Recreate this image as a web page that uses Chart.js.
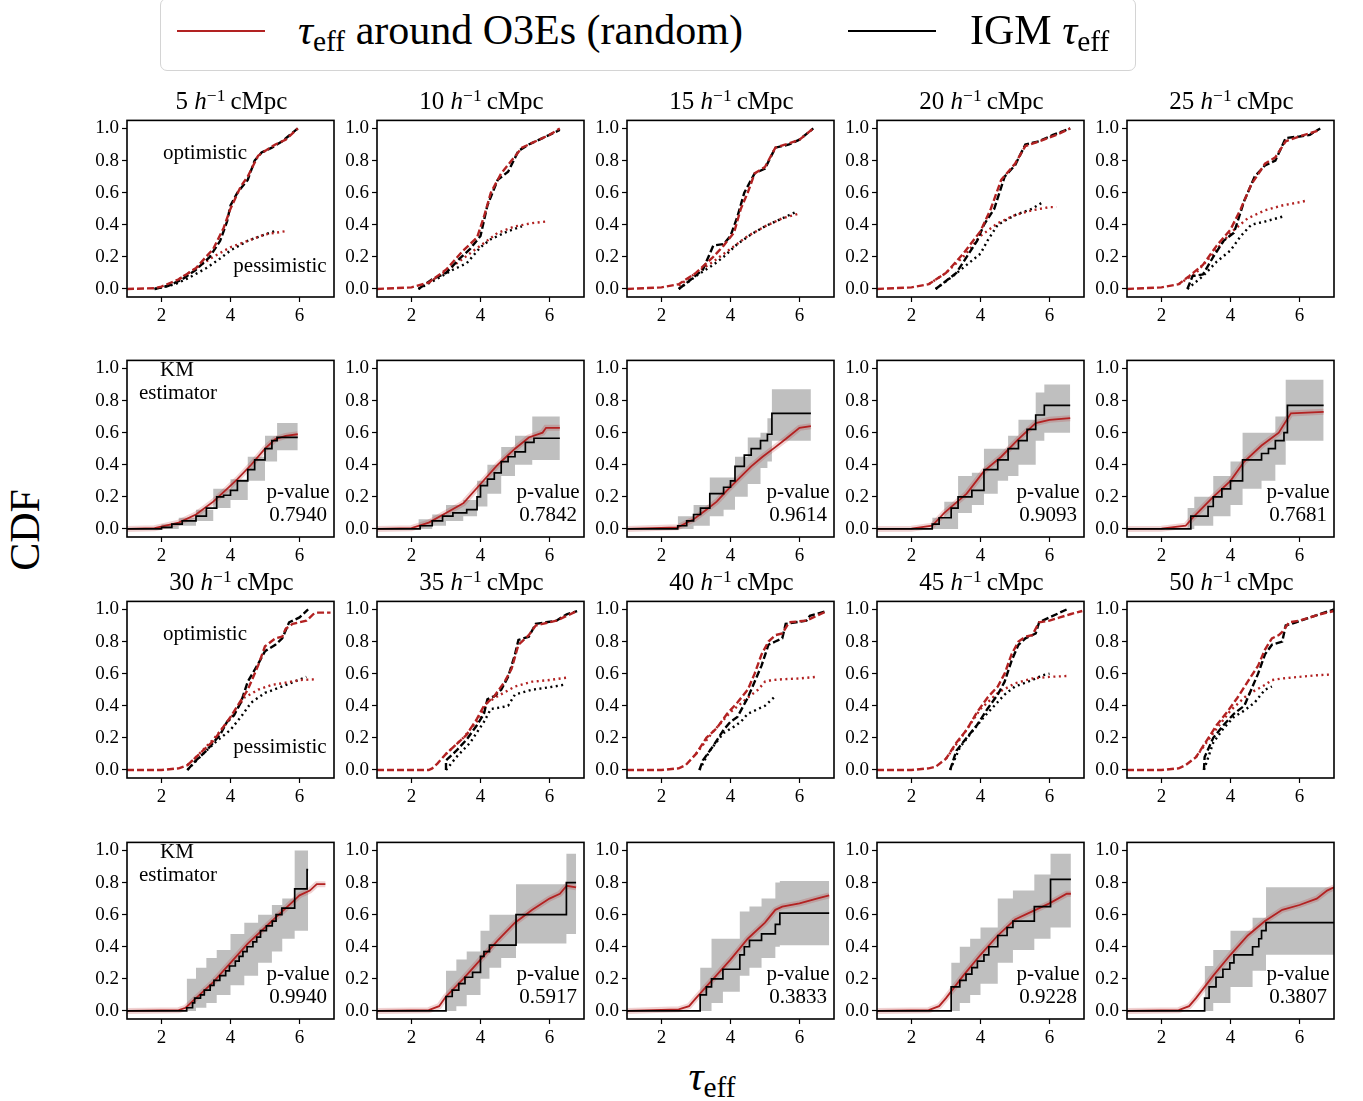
<!DOCTYPE html>
<html><head><meta charset="utf-8">
<script src="https://cdn.jsdelivr.net/npm/chart.js@4.4.1/dist/chart.umd.min.js"></script>
<style>
body{margin:0;background:#fff;}
#fig{position:relative;width:1363px;height:1101px;overflow:hidden;font-family:"Liberation Serif","DejaVu Serif",serif;color:#000;background:#fff;}
#fig canvas{position:absolute;}
.t{position:absolute;white-space:nowrap;transform:translate(-50%,-50%);line-height:1;}
.l{position:absolute;white-space:nowrap;transform:translate(0,-50%);line-height:1;}
.sb{font-size:70%;position:relative;top:0.25em;}
.sp{font-size:70%;position:relative;top:-0.45em;}
</style></head>
<body><div id="fig"></div>
<script>
// ---------------- DATA ----------------
const scaleLabels = [5,10,15,20,25,30,35,40,45,50];
const pValues = ['0.7940','0.7842','0.9614','0.9093','0.7681','0.9940','0.5917','0.3833','0.9228','0.3807'];
const xTicks = [2,4,6];
const yTicks = [0,0.2,0.4,0.6,0.8,1.0];

// optimistic CDF, random sightlines around O3Es (red dashed)
const optRandom = [
 [[1,0],[1.8,0.005],[2.0,0.015],[2.5,0.06],[3.0,0.13],[3.5,0.25],[3.8,0.38],[4.0,0.5],[4.3,0.64],[4.5,0.7],[4.8,0.83],[5.0,0.86],[5.3,0.9],[5.6,0.93],[5.95,1.0]],
 [[1,0],[2,0.01],[2.5,0.04],[3.0,0.12],[3.5,0.24],[3.9,0.32],[4.1,0.45],[4.3,0.6],[4.6,0.72],[4.9,0.8],[5.2,0.88],[5.6,0.92],[6.0,0.96],[6.3,1.0]],
 [[1,0],[2,0.01],[2.5,0.03],[3.0,0.1],[3.5,0.2],[3.8,0.27],[4.1,0.35],[4.3,0.5],[4.5,0.6],[4.7,0.72],[5.0,0.76],[5.3,0.88],[5.6,0.9],[6.0,0.93],[6.4,1.0]],
 [[1,0],[2,0.01],[2.5,0.03],[3.0,0.1],[3.5,0.22],[4.0,0.36],[4.3,0.5],[4.6,0.68],[5.0,0.78],[5.3,0.89],[5.7,0.92],[6.2,0.96],[6.6,1.0]],
 [[1,0],[2,0.01],[2.5,0.03],[2.8,0.08],[3.2,0.15],[3.6,0.27],[4.0,0.37],[4.3,0.5],[4.6,0.65],[5.0,0.78],[5.3,0.82],[5.6,0.92],[6.0,0.95],[6.6,0.99]],
 [[1,0],[2,0],[2.5,0.01],[2.75,0.03],[3.0,0.08],[3.5,0.18],[4.0,0.33],[4.5,0.5],[4.8,0.65],[5.0,0.77],[5.3,0.82],[5.5,0.83],[5.6,0.88],[5.8,0.91],[6.2,0.93],[6.4,0.97],[6.5,0.98],[6.9,0.98]],
 [[1,0],[2.5,0],[2.6,0.01],[2.75,0.04],[3.0,0.1],[3.3,0.16],[3.6,0.22],[3.9,0.32],[4.1,0.4],[4.4,0.46],[4.7,0.55],[4.9,0.63],[5.1,0.78],[5.4,0.84],[5.6,0.9],[5.8,0.91],[6.2,0.93],[6.5,0.96],[6.8,0.99]],
 [[1,0],[2,0],[2.5,0.01],[2.7,0.03],[3.0,0.1],[3.3,0.2],[3.6,0.26],[3.9,0.35],[4.2,0.42],[4.5,0.5],[4.7,0.6],[4.9,0.72],[5.1,0.8],[5.3,0.84],[5.5,0.85],[5.7,0.92],[6.2,0.93],[6.4,0.95],[6.8,0.99]],
 [[1,0],[2,0],[2.5,0.01],[2.7,0.02],[3.0,0.07],[3.3,0.17],[3.6,0.25],[3.9,0.36],[4.2,0.45],[4.5,0.52],[4.7,0.6],[4.9,0.72],[5.1,0.8],[5.3,0.83],[5.5,0.84],[5.7,0.92],[6.0,0.93],[6.3,0.95],[6.6,0.97],[6.95,0.99]],
 [[1,0],[2,0],[2.5,0.01],[2.7,0.03],[3.0,0.08],[3.3,0.18],[3.6,0.28],[3.9,0.36],[4.2,0.45],[4.5,0.55],[4.8,0.65],[5.0,0.75],[5.2,0.82],[5.4,0.84],[5.5,0.86],[5.7,0.92],[6.0,0.93],[6.3,0.95],[6.6,0.97],[7.0,0.99]]
];
// optimistic CDF, IGM (black dashed)
const optIGM = [
 [[1.8,0],[2.2,0.02],[2.6,0.06],[3.0,0.12],[3.4,0.2],[3.7,0.3],[3.9,0.42],[4.0,0.52],[4.2,0.6],[4.5,0.68],[4.7,0.8],[4.9,0.85],[5.2,0.88],[5.5,0.92],[5.95,1.0]],
 [[2.2,0],[2.6,0.06],[3.0,0.1],[3.4,0.19],[3.7,0.25],[4.0,0.33],[4.2,0.52],[4.5,0.68],[4.8,0.73],[5.1,0.86],[5.4,0.9],[5.8,0.94],[6.3,0.99]],
 [[2.5,0],[2.8,0.05],[3.2,0.12],[3.5,0.27],[3.8,0.28],[4.0,0.33],[4.2,0.45],[4.4,0.6],[4.7,0.72],[5.0,0.75],[5.3,0.88],[5.7,0.9],[6.0,0.93],[6.4,1.0]],
 [[2.7,0],[3.0,0.05],[3.3,0.1],[3.6,0.2],[3.9,0.3],[4.1,0.4],[4.4,0.5],[4.7,0.7],[5.0,0.77],[5.3,0.9],[5.7,0.92],[6.1,0.96],[6.6,1.0]],
 [[2.75,0],[2.9,0.08],[3.2,0.09],[3.5,0.2],[3.8,0.3],[4.1,0.35],[4.4,0.55],[4.7,0.7],[5.0,0.77],[5.3,0.8],[5.6,0.94],[6.0,0.95],[6.3,0.96],[6.6,1.0]],
 [[2.75,0],[3.0,0.06],[3.3,0.12],[3.7,0.22],[3.9,0.3],[4.1,0.34],[4.3,0.42],[4.5,0.55],[4.8,0.66],[5.0,0.74],[5.3,0.78],[5.5,0.82],[5.7,0.92],[6.0,0.95],[6.25,1.0]],
 [[3.0,0],[3.0,0.06],[3.3,0.12],[3.6,0.19],[3.9,0.28],[4.1,0.35],[4.2,0.44],[4.4,0.46],[4.6,0.5],[4.8,0.58],[5.0,0.72],[5.1,0.81],[5.4,0.83],[5.6,0.91],[5.9,0.92],[6.2,0.93],[6.5,0.97],[6.8,0.99]],
 [[3.1,0],[3.2,0.06],[3.5,0.15],[3.8,0.25],[4.0,0.3],[4.2,0.33],[4.5,0.45],[4.7,0.55],[4.9,0.65],[5.1,0.78],[5.3,0.8],[5.5,0.82],[5.6,0.91],[5.9,0.92],[6.2,0.93],[6.3,0.96],[6.8,0.99]],
 [[3.12,0],[3.3,0.12],[3.6,0.2],[3.9,0.28],[4.2,0.38],[4.5,0.47],[4.7,0.55],[4.9,0.68],[5.1,0.78],[5.3,0.82],[5.6,0.85],[5.7,0.92],[6.0,0.95],[6.3,0.98],[6.5,1.0]],
 [[3.23,0],[3.25,0.08],[3.5,0.2],[3.8,0.28],[4.1,0.35],[4.4,0.4],[4.6,0.5],[4.8,0.6],[5.0,0.72],[5.2,0.78],[5.5,0.8],[5.6,0.9],[5.9,0.92],[6.3,0.95],[7.0,1.0]]
];
// pessimistic CDF, random (red dotted)
const pessRandom = [
 [[2.5,0.06],[3.0,0.13],[3.5,0.2],[4.0,0.26],[4.5,0.3],[5.0,0.34],[5.6,0.36]],
 [[2.5,0.04],[3.0,0.11],[3.5,0.19],[4.0,0.27],[4.5,0.35],[5.0,0.39],[5.5,0.41],[5.9,0.42]],
 [[2.5,0.02],[3.0,0.1],[3.5,0.17],[4.0,0.25],[4.5,0.33],[5.0,0.39],[5.5,0.44],[6.0,0.47]],
 [[2.5,0.03],[3.0,0.1],[3.5,0.2],[4.0,0.33],[4.5,0.41],[5.0,0.46],[5.5,0.49],[6.0,0.51],[6.2,0.51]],
 [[2.5,0.03],[3.0,0.1],[3.5,0.22],[4.0,0.35],[4.5,0.44],[5.0,0.49],[5.5,0.52],[6.0,0.54],[6.2,0.55]],
 [[2.75,0.03],[3.0,0.08],[3.5,0.19],[4.0,0.32],[4.4,0.45],[4.8,0.5],[5.2,0.53],[5.5,0.54],[6.0,0.56],[6.5,0.565]],
 [[3.0,0.1],[3.5,0.2],[4.0,0.33],[4.2,0.42],[4.5,0.46],[5.0,0.52],[5.5,0.55],[6.0,0.56],[6.5,0.575]],
 [[3.0,0.1],[3.5,0.24],[4.0,0.36],[4.5,0.45],[4.8,0.5],[5.0,0.55],[5.2,0.56],[5.5,0.565],[6.0,0.57],[6.5,0.58]],
 [[3.0,0.07],[3.5,0.22],[4.0,0.38],[4.5,0.48],[5.0,0.54],[5.5,0.57],[6.0,0.58],[6.5,0.585]],
 [[3.0,0.08],[3.5,0.23],[4.0,0.37],[4.5,0.47],[5.0,0.53],[5.2,0.56],[5.5,0.57],[6.0,0.58],[6.5,0.59],[6.95,0.595]]
];
// pessimistic CDF, IGM (black dotted)
const pessIGM = [
 [[1.8,0],[2.4,0.03],[2.8,0.07],[3.3,0.13],[3.7,0.19],[4.0,0.24],[4.5,0.3],[5.0,0.34],[5.35,0.365]],
 [[2.2,0],[2.8,0.07],[3.2,0.12],[3.6,0.16],[4.0,0.26],[4.3,0.31],[4.8,0.36],[5.2,0.39]],
 [[2.5,0],[3.0,0.08],[3.5,0.15],[3.8,0.2],[4.2,0.28],[4.6,0.34],[5.0,0.39],[5.5,0.44],[5.9,0.48]],
 [[2.7,0],[3.2,0.08],[3.6,0.15],[4.0,0.22],[4.2,0.3],[4.5,0.4],[5.0,0.46],[5.5,0.5],[5.8,0.54]],
 [[2.75,0],[3.2,0.08],[3.6,0.17],[4.0,0.24],[4.3,0.33],[4.6,0.4],[5.0,0.42],[5.5,0.45]],
 [[2.75,0],[3.2,0.1],[3.6,0.18],[4.0,0.25],[4.3,0.33],[4.6,0.42],[5.0,0.48],[5.5,0.52],[6.2,0.58]],
 [[3.0,0],[3.3,0.08],[3.7,0.17],[4.1,0.3],[4.3,0.38],[4.6,0.39],[4.8,0.4],[5.0,0.47],[5.5,0.5],[6.0,0.515],[6.4,0.53]],
 [[3.1,0],[3.4,0.12],[3.8,0.23],[4.1,0.27],[4.3,0.3],[4.5,0.35],[4.8,0.38],[5.0,0.4],[5.3,0.46]],
 [[3.12,0],[3.4,0.14],[3.8,0.25],[4.1,0.33],[4.4,0.4],[4.7,0.47],[5.0,0.52],[5.5,0.56],[5.8,0.59],[6.0,0.6]],
 [[3.23,0],[3.5,0.17],[3.8,0.26],[4.1,0.33],[4.4,0.37],[4.7,0.42],[5.0,0.5],[5.2,0.52]]
];
// KM estimator, random (red line)
const kmRandom = [
 [[1,0],[1.8,0.005],[2.5,0.04],[3.0,0.09],[3.5,0.17],[3.9,0.25],[4.2,0.31],[4.6,0.4],[5.0,0.5],[5.3,0.56],[5.6,0.58],[5.95,0.59]],
 [[1,0],[2.0,0.005],[2.5,0.04],[3.0,0.1],[3.5,0.16],[4.0,0.28],[4.5,0.4],[5.0,0.5],[5.4,0.57],[5.8,0.6],[5.9,0.63],[6.3,0.63]],
 [[1,0],[2.47,0.01],[2.93,0.06],[3.3,0.12],[3.6,0.17],[3.9,0.24],[4.27,0.32],[4.6,0.39],[4.93,0.45],[5.3,0.51],[5.6,0.56],[6.0,0.63],[6.33,0.64]],
 [[1,0],[2.0,0.002],[2.6,0.02],[2.95,0.1],[3.6,0.22],[4.1,0.36],[4.6,0.45],[5.1,0.56],[5.6,0.66],[6.0,0.68],[6.6,0.69]],
 [[1,0],[2.0,0.002],[2.7,0.02],[2.95,0.08],[3.5,0.2],[4.0,0.3],[4.4,0.42],[4.9,0.52],[5.4,0.6],[5.75,0.72],[6.7,0.73]],
 [[1,0],[2.5,0.005],[2.7,0.02],[3.0,0.08],[3.5,0.18],[4.0,0.3],[4.5,0.42],[5.0,0.52],[5.5,0.62],[5.8,0.68],[6.0,0.72],[6.3,0.75],[6.5,0.79],[6.75,0.79]],
 [[1,0],[2.5,0.005],[2.8,0.03],[3.0,0.09],[3.5,0.2],[4.0,0.32],[4.5,0.44],[5.0,0.55],[5.5,0.63],[6.0,0.7],[6.3,0.73],[6.5,0.78],[6.77,0.77]],
 [[1,0],[2.5,0.01],[2.8,0.03],[3.0,0.08],[3.5,0.2],[4.0,0.32],[4.5,0.45],[5.0,0.55],[5.3,0.63],[5.5,0.65],[6.0,0.67],[6.5,0.7],[6.86,0.72]],
 [[1,0],[2.5,0.005],[2.8,0.03],[3.0,0.08],[3.5,0.22],[4.0,0.35],[4.5,0.47],[5.0,0.57],[5.5,0.62],[6.0,0.67],[6.5,0.73],[6.62,0.73]],
 [[1,0],[2.5,0.005],[2.8,0.03],[3.0,0.08],[3.5,0.22],[4.0,0.35],[4.5,0.47],[5.0,0.56],[5.5,0.63],[6.0,0.66],[6.5,0.7],[6.8,0.75],[7.0,0.77]]
];
// KM estimator, IGM (black step)
const kmIGM = [
 [[1,0],[2.0,0.01],[2.3,0.03],[2.6,0.05],[3.0,0.08],[3.3,0.13],[3.6,0.2],[3.8,0.21],[4.0,0.24],[4.2,0.3],[4.5,0.37],[4.7,0.43],[5.0,0.5],[5.2,0.55],[5.35,0.57],[5.95,0.57]],
 [[1,0],[2.25,0.02],[2.6,0.05],[2.9,0.08],[3.2,0.1],[3.6,0.12],[3.9,0.2],[4.0,0.27],[4.2,0.31],[4.4,0.35],[4.6,0.42],[4.8,0.45],[5.0,0.48],[5.3,0.54],[5.55,0.565],[6.3,0.565]],
 [[1,0],[2.47,0.02],[2.73,0.05],[2.93,0.09],[3.13,0.13],[3.4,0.22],[3.8,0.26],[4.0,0.3],[4.13,0.39],[4.4,0.46],[4.6,0.5],[4.87,0.55],[5.07,0.59],[5.2,0.72],[6.33,0.72]],
 [[1,0],[2.6,0.03],[2.8,0.07],[3.15,0.13],[3.35,0.2],[3.75,0.24],[4.1,0.37],[4.5,0.43],[4.8,0.5],[5.1,0.55],[5.35,0.62],[5.6,0.71],[5.85,0.77],[6.6,0.77]],
 [[1,0],[2.85,0.08],[3.35,0.14],[3.5,0.2],[3.75,0.25],[4.0,0.3],[4.35,0.43],[4.9,0.47],[5.1,0.5],[5.3,0.55],[5.55,0.6],[5.65,0.77],[6.7,0.77]],
 [[1,0],[2.73,0.02],[2.9,0.05],[2.96,0.08],[3.13,0.1],[3.24,0.13],[3.41,0.16],[3.52,0.19],[3.69,0.22],[3.86,0.25],[3.97,0.28],[4.14,0.31],[4.25,0.34],[4.36,0.37],[4.48,0.4],[4.65,0.43],[4.76,0.46],[4.87,0.5],[5.04,0.53],[5.21,0.56],[5.32,0.6],[5.49,0.64],[5.86,0.76],[6.22,0.88],[6.25,0.88]],
 [[1,0],[3.0,0.09],[3.18,0.13],[3.37,0.17],[3.55,0.21],[3.77,0.24],[4.0,0.34],[4.1,0.37],[4.26,0.41],[5.03,0.6],[6.49,0.8],[6.77,0.8]],
 [[1,0],[3.12,0.1],[3.3,0.15],[3.45,0.2],[3.78,0.26],[4.27,0.35],[4.4,0.4],[4.55,0.44],[4.9,0.48],[5.3,0.54],[5.43,0.61],[6.86,0.61]],
 [[1,0],[3.15,0.15],[3.4,0.19],[3.58,0.23],[3.75,0.27],[3.91,0.31],[4.1,0.35],[4.24,0.4],[4.5,0.47],[4.77,0.52],[4.94,0.56],[5.56,0.65],[6.03,0.82],[6.62,0.82]],
 [[1,0],[3.25,0.08],[3.38,0.15],[3.58,0.21],[3.78,0.26],[3.98,0.3],[4.1,0.35],[4.64,0.4],[4.82,0.45],[4.9,0.5],[5.03,0.55],[7.0,0.55]]
];
// KM estimator, IGM confidence band [x, low, high] (grey)
const kmBand = [
 [[1.8,0,0.01],[2.0,0,0.03],[2.5,0.02,0.07],[3.0,0.05,0.12],[3.5,0.13,0.25],[4.0,0.18,0.31],[4.5,0.3,0.45],[5.0,0.42,0.58],[5.35,0.49,0.66],[5.95,0.49,0.67]],
 [[2.2,0,0.06],[2.6,0.02,0.09],[3.0,0.05,0.15],[3.5,0.08,0.18],[3.9,0.14,0.3],[4.2,0.22,0.4],[4.6,0.33,0.51],[5.0,0.4,0.58],[5.5,0.43,0.7],[6.3,0.43,0.7]],
 [[2.47,0,0.08],[2.93,0.02,0.15],[3.4,0.08,0.32],[3.8,0.12,0.32],[4.13,0.2,0.45],[4.5,0.28,0.57],[4.87,0.38,0.6],[5.07,0.42,0.69],[5.2,0.55,0.87],[6.33,0.55,0.87]],
 [[2.6,0,0.07],[2.95,0,0.17],[3.35,0.1,0.33],[3.75,0.15,0.35],[4.1,0.22,0.5],[4.5,0.3,0.5],[4.8,0.33,0.58],[5.1,0.4,0.68],[5.6,0.55,0.85],[5.85,0.6,0.9],[6.6,0.6,0.9]],
 [[2.75,0,0.13],[2.95,0.02,0.2],[3.5,0.08,0.33],[4.0,0.15,0.42],[4.35,0.25,0.6],[4.9,0.3,0.6],[5.3,0.4,0.7],[5.6,0.55,0.93],[6.7,0.55,0.93]],
 [[2.73,0,0.2],[3.0,0.02,0.27],[3.3,0.05,0.33],[3.6,0.1,0.38],[4.0,0.16,0.48],[4.4,0.22,0.55],[4.8,0.3,0.6],[5.2,0.37,0.66],[5.5,0.45,0.7],[5.86,0.5,1.0],[6.25,0.5,1.0]],
 [[3.0,0,0.25],[3.3,0.03,0.32],[3.6,0.1,0.37],[4.0,0.2,0.5],[4.26,0.27,0.6],[4.6,0.33,0.6],[5.03,0.42,0.79],[6.49,0.48,0.98],[6.77,0.48,0.98]],
 [[3.12,0,0.27],[3.45,0.05,0.45],[3.78,0.12,0.45],[4.27,0.22,0.62],[4.55,0.27,0.65],[4.9,0.33,0.7],[5.3,0.4,0.8],[5.43,0.41,0.81],[6.86,0.41,0.81]],
 [[3.15,0,0.3],[3.4,0.05,0.4],[3.7,0.1,0.45],[4.0,0.17,0.52],[4.5,0.3,0.7],[4.94,0.38,0.75],[5.56,0.45,0.85],[6.03,0.52,0.98],[6.62,0.52,0.98]],
 [[3.25,0,0.28],[3.5,0.05,0.38],[4.0,0.15,0.5],[4.64,0.25,0.58],[5.03,0.35,0.77],[7.0,0.35,0.77]]
];

// ---------------- LAYOUT ----------------
const FONT = "'Liberation Serif','DejaVu Serif',serif";
const RED = '#b22222';
const boxLeft = [127,377,627,877,1127];
const boxTop = [118,358,599,840];
const BW = 207, BH = 179, PL = 50, PT = 12, PR = 12, PB = 30;
const fig = document.getElementById('fig');

function text(html, x, y, size, cls, extra){
  const d = document.createElement('div');
  d.className = cls || 't';
  d.style.left = x + 'px'; d.style.top = y + 'px'; d.style.fontSize = size + 'px';
  if (extra) Object.assign(d.style, extra);
  d.innerHTML = html; fig.appendChild(d); return d;
}
function box(l,t,w,h,style){
  const d=document.createElement('div');
  Object.assign(d.style,{position:'absolute',left:l+'px',top:t+'px',width:w+'px',height:h+'px',boxSizing:'border-box'},style);
  fig.appendChild(d); return d;
}

const framePlugin = {id:'frame', afterDatasetsDraw(ch){
  const a = ch.chartArea, c = ch.ctx; c.save(); c.strokeStyle='#000'; c.lineWidth=1.6;
  c.strokeRect(a.left, a.top, a.right-a.left, a.bottom-a.top); c.restore(); }};

const pts = arr => arr.map(p => ({x:p[0], y:p[1]}));

function axisOpts(ticks, fmt, fit){
  return {
    type:'linear',
    afterBuildTicks: s => { s.ticks = ticks.map(v => ({value:v})); },
    afterFit: fit,
    ticks:{color:'#000', font:{family:FONT, size:19}, padding:3, autoSkip:false, maxRotation:0, callback: v => fmt(v)},
    grid:{display:true, drawOnChartArea:false, drawTicks:true, tickLength:5, tickColor:'#000', tickWidth:1.2},
    border:{display:false}
  };
}

function panel(r, c, datasets){
  const cv = document.createElement('canvas');
  const w = PL+BW+PR, h = PT+BH+PB;
  cv.width = w; cv.height = h;
  cv.style.left = (boxLeft[c]-PL)+'px'; cv.style.top = (boxTop[r]-PT)+'px';
  cv.style.width = w+'px'; cv.style.height = h+'px';
  fig.appendChild(cv);
  const xo = axisOpts(xTicks, v => String(v), s => { s.height = PB; });
  xo.min = 1; xo.max = 7;
  const yo = axisOpts(yTicks, v => v.toFixed(1), s => { s.width = PL; });
  yo.min = -0.05; yo.max = 1.05;
  new Chart(cv, {type:'line', data:{datasets}, plugins:[framePlugin], options:{
    responsive:false, animation:false,
    layout:{padding:{top:PT, right:PR, left:0, bottom:0}},
    plugins:{legend:{display:false}, tooltip:{enabled:false}},
    elements:{point:{radius:0}, line:{tension:0}},
    scales:{x:xo, y:yo}
  }});
}

function cdfDatasets(i){
  return [
    {data:pts(optRandom[i]), borderColor:RED, borderWidth:2.4, borderDash:[7,3], fill:false},
    {data:pts(optIGM[i]), borderColor:'#000', borderWidth:2.4, borderDash:[7,3], fill:false},
    {data:pts(pessRandom[i]), borderColor:RED, borderWidth:2.4, borderDash:[2,3.5], fill:false},
    {data:pts(pessIGM[i]), borderColor:'#000', borderWidth:2.4, borderDash:[2,3.5], fill:false}
  ];
}
function kmDatasets(i){
  return [
    {data:pts(kmIGM[i]), borderColor:'#000', borderWidth:1.7, stepped:true, fill:false},
    {data:pts(kmRandom[i]), borderColor:RED, borderWidth:1.8, fill:false},
    {data:pts(kmRandom[i]), borderColor:'rgba(178,34,34,0.2)', borderWidth:6, fill:false},
    {data:kmBand[i].map(b => ({x:b[0], y:b[2]})), borderColor:'transparent', borderWidth:1, stepped:true, fill:'+1', backgroundColor:'rgba(128,128,128,0.5)'},
    {data:kmBand[i].map(b => ({x:b[0], y:b[1]})), borderColor:'transparent', borderWidth:1, stepped:true, fill:false}
  ];
}

// ---------------- BUILD ----------------
for (let half = 0; half < 2; half++){
  for (let c = 0; c < 5; c++){
    const i = half*5 + c;
    const rC = half*2, rK = half*2 + 1;
    panel(rC, c, cdfDatasets(i));
    panel(rK, c, kmDatasets(i));
    const L = boxLeft[c];
    text(scaleLabels[i] + ' <i>h</i><span class="sp">\u22121</span>\u2009cMpc', L+BW/2+1, boxTop[rC]-18, 25);
    text('p-value', L+171, boxTop[rK]+133, 21);
    text(pValues[i], L+171, boxTop[rK]+156, 21);
  }
  text('optimistic', boxLeft[0]+78, boxTop[half*2]+34, 21);
  text('pessimistic', boxLeft[0]+153, boxTop[half*2]+147, 21);
  text('KM', boxLeft[0]+50, boxTop[half*2+1]+11, 21);
  text('estimator', boxLeft[0]+51, boxTop[half*2+1]+34, 21);
}

// legend
box(160, -2, 976, 73, {border:'1.5px solid #d4d4d4', borderRadius:'7px', background:'#fff'});
box(177, 30, 88, 2, {background:RED});
box(848, 30, 88, 2, {background:'#000'});
text('<i>\u03c4</i><span class="sb">eff</span> around O3Es (random)', 298, 30, 42, 'l');
text('IGM <i>\u03c4</i><span class="sb">eff</span>', 970, 30, 42, 'l');

// axis labels
text('CDF', 25, 530, 42, 't', {transform:'translate(-50%,-50%) rotate(-90deg)'});
text('<i>\u03c4</i><span class="sb">eff</span>', 712, 1076, 42);
</script>
</body></html>
